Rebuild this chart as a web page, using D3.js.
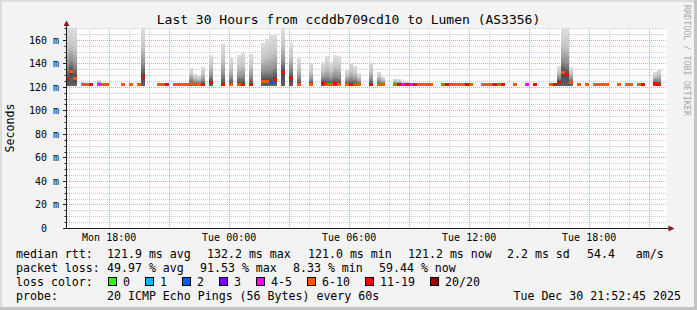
<!DOCTYPE html>
<html>
<head>
<meta charset="utf-8">
<script src="https://cdn.jsdelivr.net/npm/d3@7"></script>
<style>
body { margin: 0; background: #f3f3f3; }
svg { display: block; }
text { font-family: "DejaVu Sans Mono", monospace; fill: #000; white-space: pre; }
</style>
</head>
<body>
<svg id="chart"></svg>
<script>
// hours counted from Mon Dec 29 00:00 (Tue = 24..48)
var timeSpan = [15 + 55 / 60, 45 + 55 / 60]

// median rtt: [from, to, ms, loss class]
var medianRtt = [
    [15.8, 16.0, 127, 6], [16.0, 16.2, 132.9, 5], [16.2, 16.4, 127.5, 5],
    [16.6, 17.0, 121.8, 5], [17.0, 17.2, 121.8, 6], [17.4, 17.6, 122, 4],
    [17.6, 18.0, 121.8, 5], [18.6, 18.8, 121.8, 5], [19.0, 19.2, 121.8, 5],
    [19.4, 19.6, 121.8, 5], [19.6, 19.8, 129, 6], [20.4, 20.8, 121.8, 5],
    [20.8, 21.0, 121.8, 6], [21.2, 22.0, 121.6, 5], [22.0, 22.2, 122.6, 5],
    [22.2, 22.6, 121.8, 5], [22.6, 22.8, 121.8, 6], [23.0, 23.2, 123.5, 6],
    [23.6, 23.8, 121.8, 6], [24.0, 24.2, 122, 5], [24.4, 24.6, 122, 5],
    [24.6, 24.8, 122, 6], [25.0, 25.2, 121.8, 6], [25.6, 26.0, 124.5, 5],
    [26.0, 26.2, 124, 2], [26.2, 26.4, 126.4, 6], [26.6, 26.8, 132, 6],
    [27.0, 27.2, 127.2, 6], [27.4, 27.6, 122, 5], [28.0, 28.2, 122, 5],
    [28.6, 28.8, 123, 6], [28.8, 29.2, 122, 5], [29.2, 29.4, 122.5, 6],
    [29.4, 29.6, 122, 5], [29.8, 30.0, 122, 5], [30.0, 30.2, 122, 6],
    [30.2, 30.6, 122, 5], [31.0, 31.2, 121.8, 6], [31.4, 31.8, 122, 5],
    [32.2, 32.4, 121.8, 5], [32.4, 32.6, 121.8, 6], [32.6, 32.8, 121.8, 4],
    [32.8, 33.0, 121.8, 6], [33.0, 33.2, 121.8, 4], [33.2, 33.4, 121.8, 6],
    [33.4, 34.2, 121.6, 5], [34.6, 34.8, 121.6, 5], [34.8, 35.0, 121.6, 6],
    [35.0, 35.8, 121.6, 5], [35.8, 36.0, 121.6, 6], [36.0, 36.2, 121.6, 5],
    [36.6, 37.2, 121.6, 5], [37.2, 37.4, 121.6, 6], [37.4, 37.6, 121.6, 5],
    [37.6, 37.8, 121.6, 6], [38.2, 38.4, 121.6, 5], [38.8, 39.0, 121.6, 4],
    [39.2, 39.4, 121.6, 6], [40.0, 40.2, 121.6, 5], [40.2, 40.4, 121.8, 6],
    [40.4, 40.6, 124, 6], [40.6, 40.8, 132, 5], [40.8, 41.0, 130.3, 6],
    [41.0, 41.2, 123.5, 5], [41.4, 41.6, 121.6, 5], [41.8, 42.0, 121.6, 5],
    [42.2, 43.0, 121.6, 5], [43.4, 43.6, 121.6, 5], [43.8, 44.2, 121.6, 5],
    [44.4, 44.6, 121.6, 5], [44.6, 44.8, 121.6, 6], [45.2, 45.4, 123, 6],
    [45.4, 45.6, 122, 6]
]

// smoke (ping spread): [from, to, lowest ms, highest ms]
var smoke = [
    [15.8, 16.0, 121, 170], [16.0, 16.2, 121, 170], [16.2, 16.4, 121, 170],
    [16.6, 16.8, 121, 124], [17.4, 17.6, 121, 126], [19.6, 19.8, 121, 170],
    [20.4, 20.6, 121, 123], [22.0, 22.2, 121, 136], [22.2, 22.4, 121, 131],
    [22.4, 22.6, 121, 130], [22.6, 22.8, 121, 137], [23.0, 23.2, 121, 147],
    [23.6, 23.8, 121, 156.7], [24.0, 24.2, 121, 144.5], [24.4, 24.6, 121, 147.3],
    [24.6, 24.8, 121, 148.5], [25.0, 25.2, 121, 147.6], [25.6, 25.8, 121, 157],
    [25.8, 26.0, 121, 161], [26.0, 26.2, 121, 163.8], [26.2, 26.4, 121, 165],
    [26.6, 26.8, 121, 170], [27.0, 27.2, 121, 157], [27.4, 27.6, 121, 144.8],
    [28.0, 28.2, 121, 139.7], [28.6, 28.8, 121, 141], [28.8, 29.0, 121, 146],
    [29.0, 29.2, 121, 141], [29.2, 29.4, 121, 146.8], [29.4, 29.6, 121, 146],
    [29.8, 30.0, 121, 134.6], [30.0, 30.2, 121, 140.5], [30.2, 30.4, 121, 137.7],
    [30.4, 30.6, 121, 131.7], [31.0, 31.2, 121, 141], [31.4, 31.6, 121, 132.9],
    [31.6, 31.8, 121, 128.6], [32.2, 32.4, 121, 127], [32.4, 32.6, 121, 126.5],
    [32.6, 33.0, 121, 124.5], [36.8, 37.0, 121, 123.5], [40.4, 40.6, 121, 137.7],
    [40.6, 40.8, 121, 170], [40.8, 41.0, 121, 170], [41.0, 41.2, 121, 137],
    [45.2, 45.4, 121, 132.6], [45.4, 45.6, 121, 135.4]
]

var yTicks = [0, 20, 40, 60, 80, 100, 120, 140, 160]
var lossLabels = ["0", "1", "2", "3", "4-5", "6-10", "11-19", "20/20"]
var lossColors = ["#26ff00", "#00b8ff", "#0059ff", "#7e00ff", "#ff00ff", "#ff5500", "#ff0000", "#a00000"]
var rttStats = ["121.9 ms avg", "132.2 ms max", "121.0 ms min", "121.2 ms now", "2.2 ms sd", "54.4   am/s"]
var lossStats = ["49.97 % avg", "91.53 % max", "8.33 % min", "59.44 % now"]
var probeText = "20 ICMP Echo Pings (56 Bytes) every 60s"
var stampText = "Tue Dec 30 21:52:45 2025"
var title = "Last 30 Hours from ccddb709cd10 to Lumen (AS3356)"

var W = 697, H = 310
var plot = { left: 67, top: 28, width: 600, height: 200 }

var base = new Date(2025, 11, 29, 0, 0, 0)
function toDate(h) { return new Date(base.getTime() + h * 3600e3) }

var svg = d3.select('#chart').attr('width', W).attr('height', H)

// background + 3d frame
svg.append('rect').attr('width', W).attr('height', H).attr('fill', '#f3f3f3')
svg.append('rect').attr('width', W).attr('height', 2).attr('fill', '#dcdcdc')
svg.append('rect').attr('width', 2).attr('height', H).attr('fill', '#dcdcdc')
svg.append('rect').attr('x', 0).attr('y', H - 3).attr('width', W).attr('height', 3).attr('fill', '#c4c4c4')
svg.append('rect').attr('x', W - 3).attr('y', 0).attr('width', 3).attr('height', H).attr('fill', '#c4c4c4')

var xScale = d3.scaleTime()
    .domain(timeSpan.map(toDate))
    .range([plot.left, plot.left + plot.width])

var yScale = d3.scaleLinear()
    .domain([0, 170])
    .range([plot.top + plot.height, plot.top])

svg.append('rect')
    .attr('x', plot.left).attr('y', plot.top)
    .attr('width', plot.width).attr('height', plot.height)
    .attr('fill', '#fff')

svg.append('defs').append('clipPath').attr('id', 'clip')
    .append('rect')
    .attr('x', plot.left).attr('y', plot.top)
    .attr('width', plot.width).attr('height', plot.height)

// grid
var grid = svg.append('g').attr('stroke-dasharray', '1,1').attr('shape-rendering', 'crispEdges')
var crisp = v => Math.round(v) + 0.5

grid.selectAll('.vmin')
    .data(xScale.ticks(d3.timeHour.every(1)).filter(d => d.getHours() % 3 != 0))
    .join('line')
    .attr('x1', d => crisp(xScale(d))).attr('x2', d => crisp(xScale(d)))
    .attr('y1', plot.top).attr('y2', plot.top + plot.height)
    .attr('stroke', '#8f8f8f').attr('stroke-opacity', 0.45)

grid.selectAll('.hmin')
    .data(d3.range(5, 171, 5).filter(v => v % 20 != 0))
    .join('line')
    .attr('x1', plot.left).attr('x2', plot.left + plot.width)
    .attr('y1', d => crisp(yScale(d))).attr('y2', d => crisp(yScale(d)))
    .attr('stroke', '#8f8f8f').attr('stroke-opacity', 0.45)

grid.selectAll('.vmaj')
    .data(xScale.ticks(d3.timeHour.every(3)))
    .join('line')
    .attr('x1', d => crisp(xScale(d))).attr('x2', d => crisp(xScale(d)))
    .attr('y1', plot.top).attr('y2', plot.top + plot.height)
    .attr('stroke', '#e85050').attr('stroke-opacity', 0.55)

grid.selectAll('.hmaj')
    .data(yTicks.filter(v => v > 0))
    .join('line')
    .attr('x1', plot.left).attr('x2', plot.left + plot.width)
    .attr('y1', d => crisp(yScale(d))).attr('y2', d => crisp(yScale(d)))
    .attr('stroke', '#e85050').attr('stroke-opacity', 0.55)

// smoke
var defs = svg.select('defs')
var marks = svg.append('g').attr('clip-path', 'url(#clip)').attr('shape-rendering', 'crispEdges')

function medianAt(t) {
    var m = medianRtt.find(d => d[0] <= t + 1e-6 && t < d[1] - 1e-6)
    return m ? m[2] : 122
}

smoke.forEach(function (s, i) {
    var med = medianAt(s[0])
    var f = (s[3] - med) / (s[3] - s[2])
    var g = defs.append('linearGradient')
        .attr('id', 'sm' + i)
        .attr('gradientUnits', 'userSpaceOnUse')
        .attr('x1', 0).attr('x2', 0)
        .attr('y1', yScale(s[3])).attr('y2', yScale(s[2]))
    var stops = [[0, '#dedede'], [f * 0.4, '#c6c6c6'], [f * 0.75, '#8e8e8e'], [f, '#474747'], [1, '#626262']]
    stops.forEach(st => g.append('stop').attr('offset', st[0]).attr('stop-color', st[1]))
})

marks.selectAll('.smoke')
    .data(smoke)
    .join('rect')
    .attr('x', d => xScale(toDate(d[0])))
    .attr('width', d => xScale(toDate(d[1])) - xScale(toDate(d[0])))
    .attr('y', d => yScale(d[3]))
    .attr('height', d => yScale(d[2]) - yScale(d[3]))
    .attr('fill', (d, i) => 'url(#sm' + i + ')')

marks.selectAll('.median')
    .data(medianRtt)
    .join('rect')
    .attr('x', d => xScale(toDate(d[0])))
    .attr('width', d => xScale(toDate(d[1])) - xScale(toDate(d[0])))
    .attr('y', d => yScale(d[2]) - 1.5)
    .attr('height', 3)
    .attr('fill', d => lossColors[d[3]])

// axes labels through d3 axes
var xAxis = d3.axisBottom(xScale)
    .ticks(d3.timeHour.every(6))
    .tickFormat(d3.timeFormat('%a %H:%M'))
    .tickSize(0)
    .tickPadding(0)

var gx = svg.append('g')
    .attr('transform', 'translate(0,' + (plot.top + plot.height) + ')')
    .call(xAxis)
gx.select('.domain').remove()
gx.selectAll('text')
    .attr('dy', null).attr('y', 13)
    .style('font-family', '"DejaVu Sans Mono", monospace')
    .style('font-size', '10px').attr('fill', '#000')

var yAxis = d3.axisLeft(yScale)
    .tickValues(yTicks)
    .tickFormat(v => v == 0 ? '0  ' : v + ' m')
    .tickSize(0)
    .tickPadding(0)

var gy = svg.append('g')
    .attr('transform', 'translate(59,0)')
    .call(yAxis)
gy.select('.domain').remove()
gy.selectAll('text')
    .attr('dy', '0.35em')
    .style('font-family', '"DejaVu Sans Mono", monospace')
    .style('font-size', '10px').attr('fill', '#000')

// y ticks on axis
svg.append('g').selectAll('line')
    .data(d3.range(0, 171, 5))
    .join('line')
    .attr('x1', d => d % 20 == 0 ? 63 : 64.5).attr('x2', 66)
    .attr('y1', d => crisp(yScale(d))).attr('y2', d => crisp(yScale(d)))
    .attr('stroke', '#1f1f1f')

// axis lines and arrows
svg.append('line').attr('x1', 66.5).attr('x2', 66.5).attr('y1', 229).attr('y2', 24).attr('stroke', '#1f1f1f')
svg.append('line').attr('x1', 63).attr('x2', 670).attr('y1', 228.5).attr('y2', 228.5).attr('stroke', '#1f1f1f')
svg.append('path').attr('d', 'M668.5,225.5L674.5,228.5L668.5,231.5Z').attr('fill', '#7f1f1f')
svg.append('path').attr('d', 'M63.5,26L66.5,20.5L69.5,26Z').attr('fill', '#7f1f1f')

// title, y title, watermark
svg.append('text').attr('x', W / 2).attr('y', 23.5).attr('text-anchor', 'middle')
    .style('font-size', '13px').text(title)
svg.append('text').attr('transform', 'translate(14,128) rotate(-90)').attr('text-anchor', 'middle')
    .style('font-size', '11.6px').text('Seconds')
svg.append('text').attr('transform', 'translate(683.5,5) rotate(90)')
    .style('font-size', '8.4px').style('fill', '#a8a8a8').text('RRDTOOL / TOBI OETIKER')

// legend
var fs = '11.6px'
function put(x, y, s) {
    return svg.append('text').attr('x', x).attr('y', y).style('font-size', fs).text(s)
}
put(16, 258, 'median rtt:')
var rttX = [107, 207, 308, 408, 507, 587]
rttStats.forEach((s, i) => put(rttX[i], 258, s))

put(16, 272, 'packet loss:')
var lossX = [107, 200, 293, 379]
lossStats.forEach((s, i) => put(lossX[i], 272, s))

put(16, 286, 'loss color:')
var bx = 108.5
lossLabels.forEach(function (l, i) {
    svg.append('rect').attr('x', bx).attr('y', 277.5).attr('width', 8).attr('height', 8)
        .attr('fill', lossColors[i]).attr('stroke', '#000').attr('stroke-width', 1)
    put(bx + 14.5, 286, l)
    bx += 14.5 + l.length * 7 + 15.5
})

put(16, 300, 'probe:')
put(107, 300, probeText)
put(681, 300, stampText).attr('text-anchor', 'end')
</script>
</body>
</html>
